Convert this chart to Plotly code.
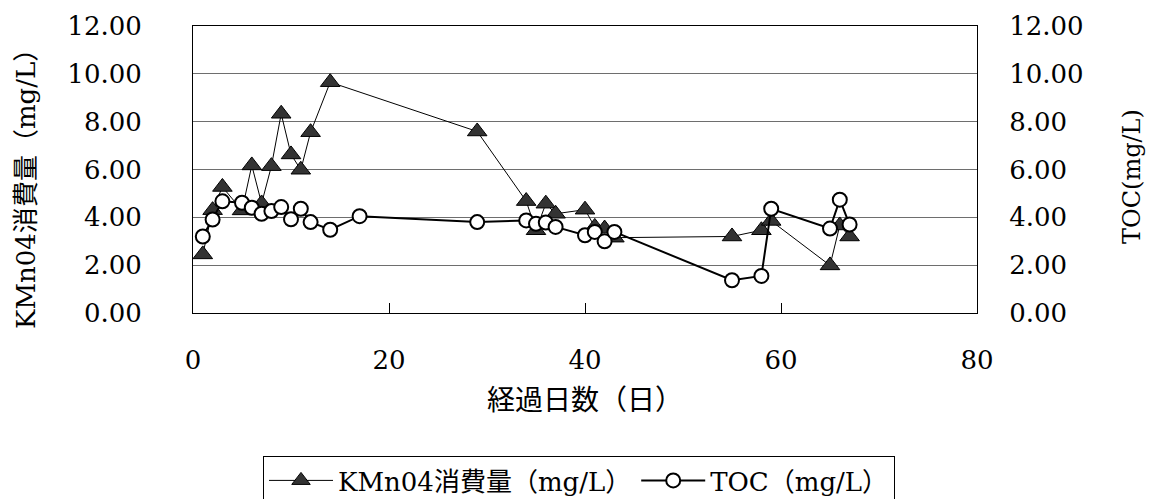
import plotly.graph_objects as go

# KMnO4 consumption (triangles)
kmno4_days = [1, 2, 3, 5, 6, 7, 8, 9, 10, 11, 12, 14, 29, 34, 35, 36, 37, 40, 41, 42, 43, 55, 58, 59, 65, 66, 67]
kmno4_vals = [2.45, 4.30, 5.27, 4.29, 6.17, 4.58, 6.14, 8.33, 6.63, 5.99, 7.56, 9.65, 7.59, 4.68, 3.46, 4.57, 4.15,
              4.32, 3.60, 3.53, 3.15, 3.20, 3.46, 3.85, 1.99, 3.66, 3.20]

# TOC (circles)
toc_days = [1, 2, 3, 5, 6, 7, 8, 9, 10, 11, 12, 14, 17, 29, 34, 35, 36, 37, 40, 41, 42, 43, 55, 58, 59, 65, 66, 67]
toc_vals = [3.20, 3.91, 4.67, 4.61, 4.40, 4.15, 4.26, 4.43, 3.92, 4.36, 3.80, 3.48, 4.05, 3.80, 3.87, 3.73, 3.78,
            3.60, 3.25, 3.39, 3.00, 3.39, 1.37, 1.55, 4.36, 3.53, 4.74, 3.70]

x_ticks = [0, 20, 40, 60, 80]
y_ticks = [0, 2, 4, 6, 8, 10, 12]

name_kmno4 = "KMn04消費量（mg/L）"
name_toc = "TOC（mg/L）"
title_left = "KMn04消費量（mg/L）"
title_right = "TOC(mg/L)"
title_x = "経過日数（日）"

FONT = "DejaVu Serif, Noto Sans CJK JP, sans-serif"

fig = go.Figure()
fig.add_trace(go.Scatter(
    x=kmno4_days, y=kmno4_vals, name=name_kmno4, mode="lines+markers",
    line=dict(color="black", width=1),
    marker=dict(symbol="triangle-up", size=17, color="#333333", line=dict(color="black", width=1)),
    yaxis="y",
))
fig.add_trace(go.Scatter(
    x=toc_days, y=toc_vals, name=name_toc, mode="lines+markers",
    line=dict(color="black", width=2),
    marker=dict(symbol="circle", size=14, color="white", line=dict(color="black", width=2)),
    yaxis="y2",
))

W, H = 1156, 499
L, R, T, B = 193, 179, 26, 186
pw, ph = W - L - R, H - T - B

def px(xp):
    return (xp - L) / pw

def py(yp):
    return (H - B - yp) / ph

fig.update_layout(
    width=W, height=H,
    margin=dict(l=L, r=R, t=T, b=B, pad=0, autoexpand=False),
    paper_bgcolor="white", plot_bgcolor="white",
    font=dict(family=FONT, color="black", size=26),
    showlegend=True,
    legend=dict(
        orientation="h", xref="container", yref="container",
        x=263 / W, xanchor="left", y=1 - 456 / H, yanchor="top",
        bordercolor="black", borderwidth=1, bgcolor="white",
        font=dict(family=FONT, size=26, color="black"),
        itemwidth=64, traceorder="normal",
    ),
    xaxis=dict(
        range=[0, 80], tickvals=x_ticks, ticks="inside", ticklen=10, tickcolor="black",
        showline=True, linecolor="black", linewidth=1, mirror=True,
        showgrid=False, zeroline=False, ticklabelstandoff=24,
        tickfont=dict(family=FONT, size=26),
    ),
    yaxis=dict(
        range=[0, 12], tickvals=y_ticks, tickformat=".2f", ticks="",
        showline=True, linecolor="black", linewidth=1,
        showgrid=True, gridcolor="#6e6e6e", gridwidth=1, zeroline=False,
        ticklabelstandoff=45, tickfont=dict(family=FONT, size=26),
    ),
    yaxis2=dict(
        range=[0, 12], tickvals=y_ticks, tickformat=".2f", ticks="",
        overlaying="y", side="right",
        showline=True, linecolor="black", linewidth=1,
        showgrid=False, zeroline=False,
        ticklabelstandoff=26, tickfont=dict(family=FONT, size=26),
    ),
    annotations=[
        dict(text=title_left, xref="paper", yref="paper", x=px(26), y=py(183),
             xanchor="center", yanchor="middle", textangle=-90, showarrow=False,
             font=dict(family=FONT, size=26)),
        dict(text=title_right, xref="paper", yref="paper", x=px(1132), y=py(177),
             xanchor="center", yanchor="middle", textangle=-90, showarrow=False,
             font=dict(family=FONT, size=24)),
        dict(text=title_x, xref="paper", yref="paper", x=px(585), y=py(400),
             xanchor="center", yanchor="middle", showarrow=False,
             font=dict(family=FONT, size=28)),
    ],
)

fig.write_html("out.html")
